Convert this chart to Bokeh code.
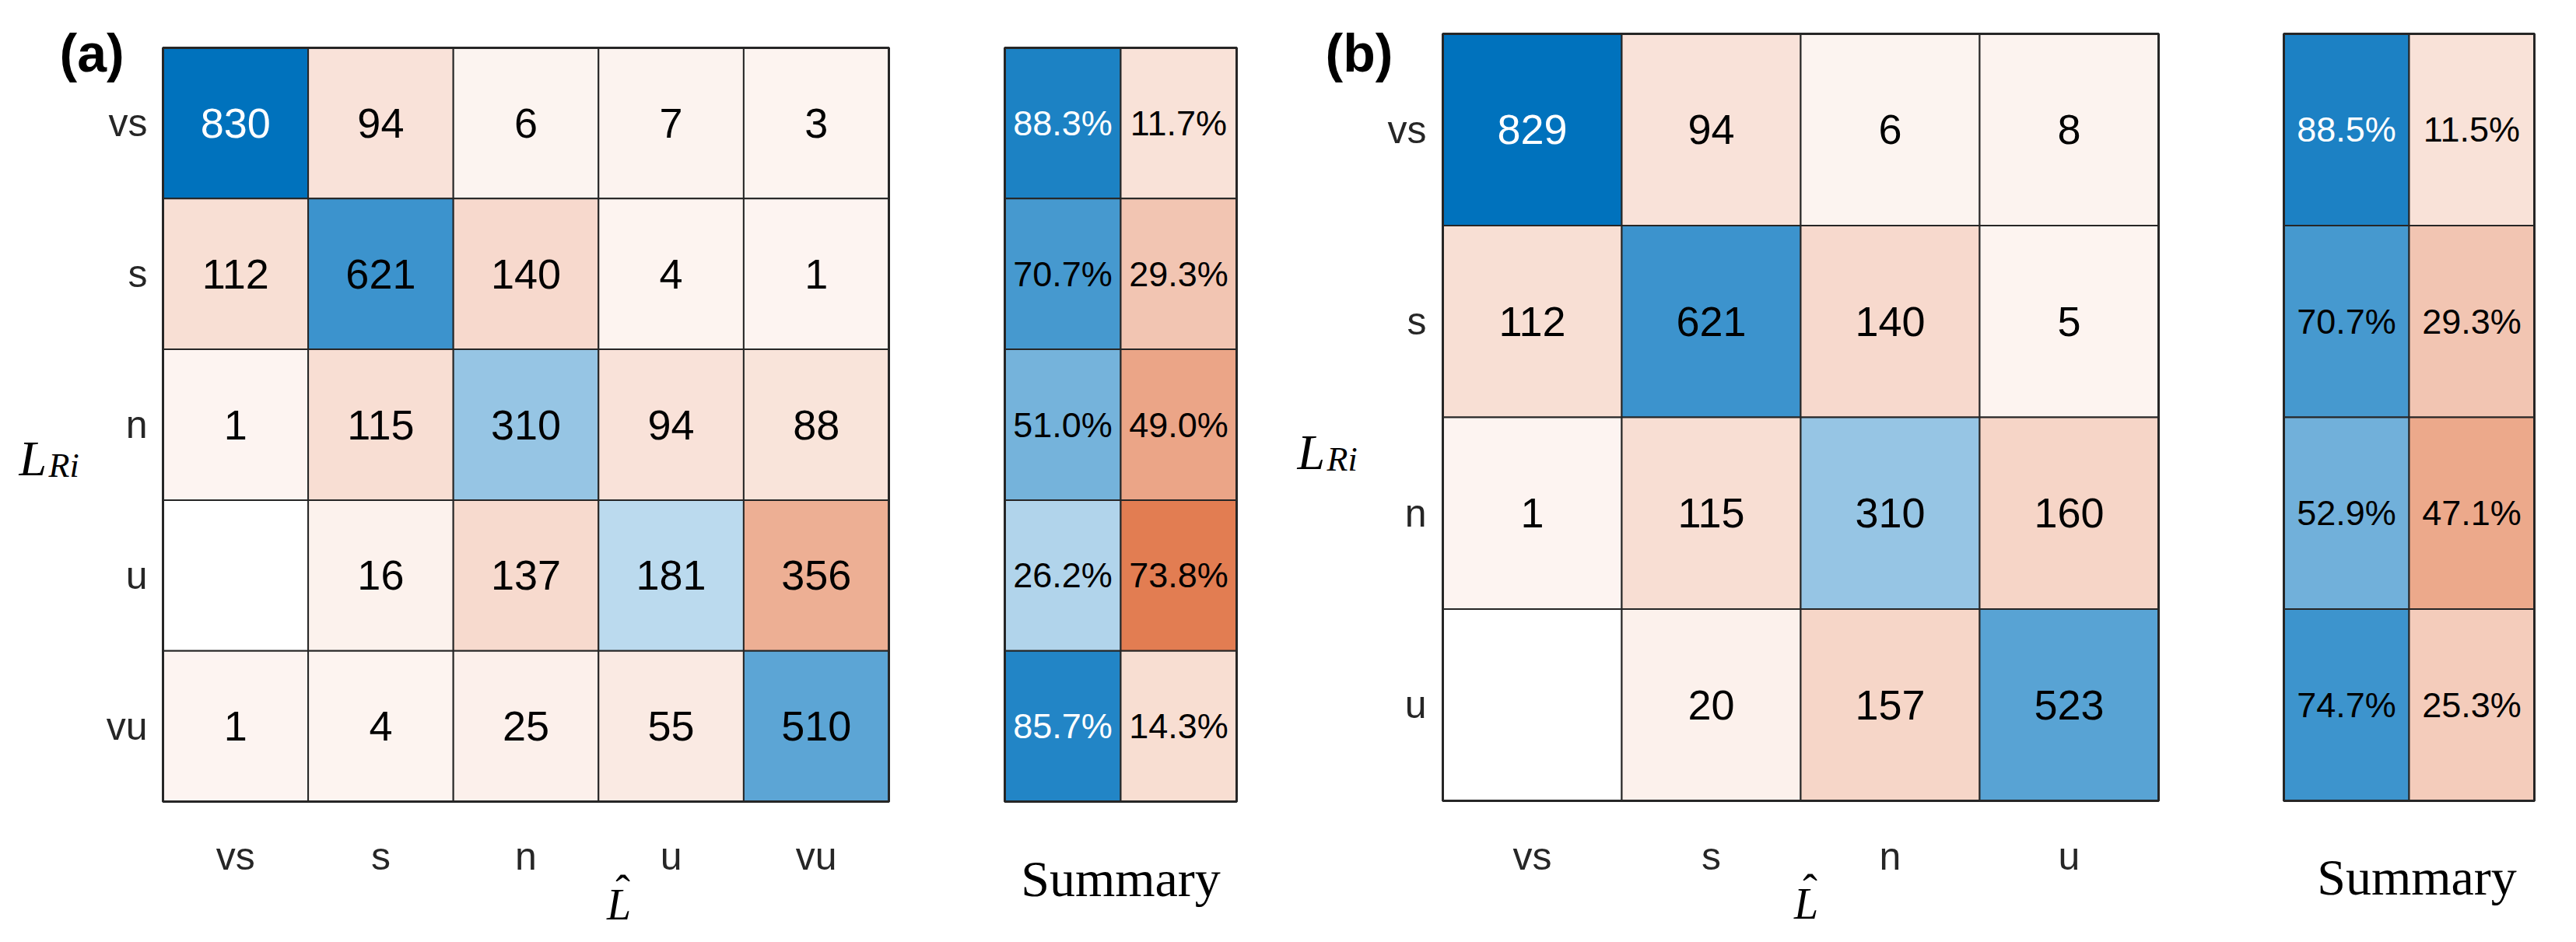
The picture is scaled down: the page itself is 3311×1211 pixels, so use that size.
from bokeh.plotting import figure
from bokeh.models import Range1d, ColumnDataSource
from bokeh.layouts import row
from bokeh.embed import file_html
from bokeh.resources import INLINE
from bokeh.core.properties import value

# ---------------- data ----------------
classes_a = ["vs", "s", "n", "u", "vu"]
counts_a = [
    [830, 94, 6, 7, 3],
    [112, 621, 140, 4, 1],
    [1, 115, 310, 94, 88],
    [0, 16, 137, 181, 356],
    [1, 4, 25, 55, 510],
]
correct_a = [88.3, 70.7, 51.0, 26.2, 85.7]
wrong_a = [11.7, 29.3, 49.0, 73.8, 14.3]

classes_b = ["vs", "s", "n", "u"]
counts_b = [
    [829, 94, 6, 8],
    [112, 621, 140, 5],
    [1, 115, 310, 160],
    [0, 20, 157, 523],
]
correct_b = [88.5, 70.7, 52.9, 74.7]
wrong_b = [11.5, 29.3, 47.1, 25.3]

# ---------------- styles / layout ----------------
DIAG = (0, 114, 189)
OFF = (217, 83, 25)
GRID = "#262626"
SANS = "Liberation Sans"
SERIF = "Liberation Serif"
TOP = 8          # page margin
BOTTOM = 1203    # figure bottom on page
BASE_SHIFT = -6  # small correction for alphabetic baselines


def shade(base, frac):
    if frac <= 0:
        return "#ffffff", "#000000"
    a = 0.06 + 0.94 * frac
    rgb = [int(round(255 - (255 - c) * a)) for c in base]
    return "#%02x%02x%02x" % tuple(rgb), ("#ffffff" if a > 0.8 else "#000000")


def make_fig(left_edge, right_edge, fl, fr, ft, fb, nx, ny):
    cw = (fr - fl) / nx
    ch = (fb - ft) / ny
    p = figure(
        width=right_edge - left_edge, height=BOTTOM - TOP, min_border=0,
        x_range=Range1d((left_edge - fl) / cw, (right_edge - fl) / cw),
        y_range=Range1d((BOTTOM - ft) / ch, (TOP - ft) / ch),
        x_axis_location=None, y_axis_location=None, title=None,
        output_backend="svg", toolbar_location=None,
    )
    p.grid.visible = False
    p.outline_line_color = None
    p.background_fill_color = "white"
    p.border_fill_color = "white"
    p._geom = (fl, ft, cw, ch, nx, ny)
    return p


def dx(p, sx):
    fl, ft, cw, ch, nx, ny = p._geom
    return (sx - fl) / cw


def dy(p, sy):
    fl, ft, cw, ch, nx, ny = p._geom
    return (sy - ft) / ch


def add_label(p, text, sx, sy, font, size, style="normal", align="left",
              color="#000000"):
    p.text(x=[dx(p, sx)], y=[dy(p, sy + BASE_SHIFT)], text=[text],
           text_font=value(font), text_font_size=size, text_font_style=style,
           text_align=align, text_baseline="alphabetic", text_color=color,
           text_line_height=1.0)


def cells(p, xs, ys, cols, txt, tcol, size):
    src = ColumnDataSource(dict(x=xs, y=ys, c=cols, t=txt, tc=tcol))
    p.rect("x", "y", width=1, height=1, source=src, fill_color="c",
           line_color=GRID, line_width=2)
    p.text("x", "y", text="t", source=src, text_color="tc", text_align="center",
           text_baseline="middle", text_font_size=size, text_font=value(SANS),
           text_line_height=1.0)
    nx, ny = p._geom[4], p._geom[5]
    p.rect(x=[nx / 2], y=[ny / 2], width=nx, height=ny, fill_color=None,
           line_color=GRID, line_width=3)


def matrix_panel(p, classes, counts, ytick_right, xtick_base):
    n = len(classes)
    vmax = max(max(r) for r in counts)
    xs, ys, cols, txt, tcol = [], [], [], [], []
    for i in range(n):
        for j in range(n):
            v = counts[i][j]
            c, t = shade(DIAG if i == j else OFF, v / vmax)
            xs.append(j + 0.5)
            ys.append(i + 0.5)
            cols.append(c)
            txt.append(str(v) if v > 0 else "")
            tcol.append(t)
    cells(p, xs, ys, cols, txt, tcol, "54px")
    centers = [k + 0.5 for k in range(n)]
    # tick labels (rows on the left, columns below)
    p.text(x=[dx(p, ytick_right)] * n, y=centers, text=classes, text_align="right",
           text_baseline="middle", text_font_size="50px", text_font=value(SANS),
           text_color=GRID, text_line_height=1.0)
    p.text(x=centers, y=[dy(p, xtick_base + BASE_SHIFT)] * n, text=classes,
           text_align="center", text_baseline="alphabetic", text_font_size="50px",
           text_font=value(SANS), text_color=GRID, text_line_height=1.0)


def summary_panel(p, correct, wrong):
    n = len(correct)
    xs, ys, cols, txt, tcol = [], [], [], [], []
    for i in range(n):
        for j, (val, base) in enumerate(((correct[i], DIAG), (wrong[i], OFF))):
            c, t = shade(base, val / 100.0)
            xs.append(j + 0.5)
            ys.append(i + 0.5)
            cols.append(c)
            txt.append("%.1f%%" % val)
            tcol.append(t)
    cells(p, xs, ys, cols, txt, tcol, "45px")


# ---------------- panel (a) ----------------
pa = make_fig(8, 1230, 217, 1150, 69, 1038, 5, 5)
matrix_panel(pa, classes_a, counts_a, 197, 1114)
add_label(pa, "(a)", 84, 81, SANS, "68px", style="bold")
add_label(pa, "L", 32, 603, SERIF, "64px", style="italic")
add_label(pa, "Ri", 70, 612, SERIF, "44px", style="italic")
add_label(pa, "L", 803, 1176, SERIF, "56px", style="italic", align="center")
add_label(pa, "\u02c6", 808, 1158, SERIF, "56px", align="center")

psa = make_fig(1230, 1640, 1299, 1597, 69, 1038, 2, 5)
summary_panel(psa, correct_a, wrong_a)
add_label(psa, "Summary", 1448, 1143, SERIF, "66px", align="center")

# ---------------- panel (b) ----------------
pb = make_fig(1640, 2860, 1862, 2782, 51, 1037, 4, 4)
matrix_panel(pb, classes_b, counts_b, 1841, 1114)
add_label(pb, "(b)", 1711, 81, SANS, "68px", style="bold")
add_label(pb, "L", 1675, 595, SERIF, "64px", style="italic")
add_label(pb, "Ri", 1713, 604, SERIF, "44px", style="italic")
add_label(pb, "L", 2329, 1175, SERIF, "56px", style="italic", align="center")
add_label(pb, "\u02c6", 2334, 1157, SERIF, "56px", align="center")

psb = make_fig(2860, 3295, 2943, 3265, 51, 1037, 2, 4)
summary_panel(psb, correct_b, wrong_b)
add_label(psb, "Summary", 3114, 1141, SERIF, "66px", align="center")

layout = row(pa, psa, pb, psb, spacing=0)
open("out.html", "w").write(file_html(layout, INLINE))
